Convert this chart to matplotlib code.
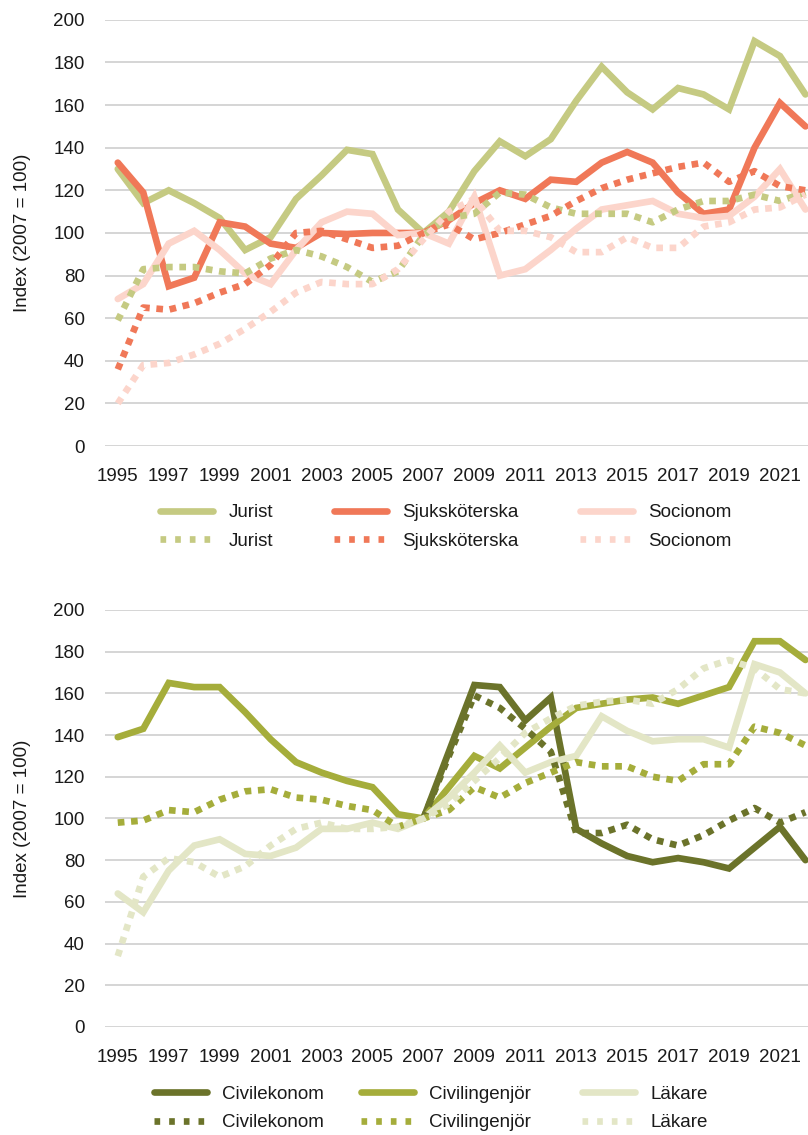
import numpy as np
import matplotlib
matplotlib.use("Agg")
import matplotlib.pyplot as plt
from matplotlib.lines import Line2D

plt.rcParams["font.family"] = ["Liberation Sans", "DejaVu Sans"]

years = list(range(1995, 2023))
nan = np.nan

# Top panel
jurist = [130, 114, 120, 114, 107, 92, 98, 116, 127, 139, 137, 111, 100,
          110, 129, 143, 136, 144, 162, 178, 166, 158, 168, 165, 158, 190, 183, 165]
jurist_d = [59, 83, 84, 84, 82, 81, 88, 92, 89, 84, 77, 82, 99,
            107, 109, 119, 118, 112, 109, 109, 109, 105, 111, 115, 115, 118, 115, 119]
sjuk = [133, 119, 75, 79, 105, 103, 95, 93, 100, 99.5, 100, 100, 100,
        106, 114, 120, 116, 125, 124, 133, 138, 133, 119, 109, 111, 140, 161, 150]
sjuk_d = [36, 65, 64, 67, 72, 76, 85, 100, 101, 97, 93, 94, 100,
          104, 97, 100, 104, 108, 115, 121, 125, 128, 131, 133, 124, 129, 122, 120]
socio = [69, 76, 95, 101, 92, 81, 76, 92, 105, 110, 109, 99, 100,
         95, 117, 80, 83, 92, 102, 111, 113, 115, 109, 107, 108, 117, 130, 111]
socio_d = [20, 38, 39, 43, 48, 55, 63, 72, 77, 76, 76, 83, 97,
           110, 116, 101, 101, 98, 91, 91, 98, 93, 93, 103, 105, 111, 112, 118]

# Bottom panel
ekon = [nan] * 12 + [100, 132, 164, 163, 147, 158, 95, 88, 82, 79, 81, 79, 76, 86, 96, 80]
ekon_d = [nan] * 12 + [100, 130, 159, 153, 143, 132, 93, 93, 97, 90, 87, 92, 99, 105, 98, 103]
ing = [139, 143, 165, 163, 163, 151, 138, 127, 122, 118, 115, 102, 100,
       115, 130, 124, 134, 144, 153, 155, 157, 158, 155, 159, 163, 185, 185, 176]
ing_d = [98, 99, 104, 103, 109, 113, 114, 110, 109, 106, 104, 96, 100,
         104, 115, 110, 117, 122, 127, 125, 125, 120, 118, 126, 126, 144, 141, 135]
lak = [64, 55, 75, 87, 90, 83, 82, 86, 95, 95, 98, 95, 100,
       110, 122, 135, 122, 127, 130, 149, 142, 137, 138, 138, 134, 174, 170, 160]
lak_d = [34, 72, 81, 79, 72, 77, 87, 95, 98, 95, 95, 96, 100,
         107, 118, 129, 141, 148, 154, 156, 157, 155, 162, 172, 176, 172, 162, 160]

top_series = [("Jurist", jurist, jurist_d, "#c5ca82"),
              ("Sjuksköterska", sjuk, sjuk_d, "#f07858"),
              ("Socionom", socio, socio_d, "#fcd5cb")]
bottom_series = [("Civilekonom", ekon, ekon_d, "#6b732a"),
                 ("Civilingenjör", ing, ing_d, "#a5ad3b"),
                 ("Läkare", lak, lak_d, "#e3e6c6")]

LW = 4.8
FS = 13.5
TXT = "#1a1a1a"
W, H = 808, 1135

fig = plt.figure(figsize=(W / 100, H / 100), dpi=100)
ax_top = fig.add_axes([0.130, 0.607, 0.870, 0.3755])
ax_bot = fig.add_axes([0.130, 0.0952, 0.870, 0.3674])


def draw_panel(ax, series):
    for name, solid, _, color in series:
        ax.plot(years, solid, color=color, lw=LW, solid_capstyle="round",
                solid_joinstyle="miter", zorder=3)
    for name, _, dotted, color in series:
        ax.plot(years, dotted, color=color, lw=LW, dashes=(1, 1),
                dash_capstyle="butt", zorder=4)
    ax.set_xlim(1994.5, 2022.1)
    ax.set_ylim(0, 200)
    ax.set_yticks(range(0, 201, 20))
    ax.set_xticks(range(1995, 2022, 2))
    ax.grid(axis="y", color="#d2d2d2", lw=1.3, zorder=0)
    ax.set_axisbelow(True)
    for s in ax.spines.values():
        s.set_visible(False)
    ax.tick_params(length=0, labelsize=FS, labelcolor=TXT)
    ax.tick_params(axis="y", pad=14.5)
    ax.tick_params(axis="x", pad=16)
    ax.set_ylabel("Index (2007 = 100)", fontsize=FS, color=TXT, labelpad=16)


def add_legend(series, xs, y):
    # one small legend per column so the columns sit where the reference has them
    for (name, _, _, color), x in zip(series, xs):
        handles = [Line2D([], [], color=color, lw=LW, solid_capstyle="round"),
                   Line2D([], [], color=color, lw=LW, dashes=(0.85, 1.35),
                          dash_capstyle="butt")]
        fig.legend(handles, [name, name], loc="center left",
                   bbox_to_anchor=(x / W, 1 - y / H), frameon=False, fontsize=FS,
                   handlelength=2.85, handletextpad=0.8, labelspacing=0.6,
                   borderpad=0, borderaxespad=0, labelcolor=TXT)


draw_panel(ax_top, top_series)
draw_panel(ax_bot, bottom_series)
add_legend(top_series, [160, 334, 580], 527)
add_legend(bottom_series, [154, 361, 582], 1108.5)

fig.savefig("out.png", dpi=100)
plt.close(fig)
